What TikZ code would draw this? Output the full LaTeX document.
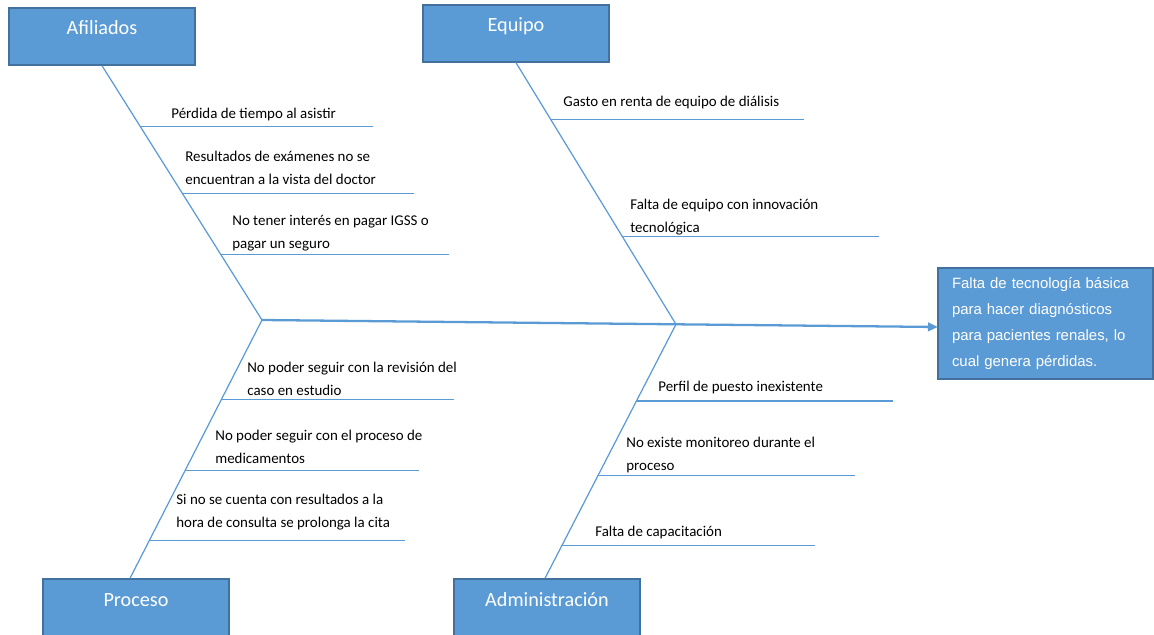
\documentclass[tikz,border=0pt]{standalone}
\usepackage{fontspec}
\setmainfont{Carlito}
\newfontfamily\arialfont{Liberation Sans}
\usetikzlibrary{arrows.meta,calc}
\definecolor{azul}{RGB}{91,155,213}
\definecolor{azulborde}{RGB}{65,113,156}

\begin{document}
\begin{tikzpicture}[x=0.02cm,y=-0.02cm,
    categoria/.style={draw=azulborde,fill=azul,line width=0.8pt,minimum width=3.72cm,inner sep=0pt,
        text height=0.54cm,text depth=0.6cm,text=white,font=\fontsize{11.5}{13}\selectfont},
    efecto/.style={draw=azulborde,fill=azul,line width=0.8pt,text=white,align=left,
        minimum width=4.3cm,minimum height=2.22cm,text width=3.74cm,inner xsep=0.28cm,
        font=\arialfont\fontsize{8.5}{14.9}\selectfont},
    causa/.style={anchor=south west,inner sep=0pt,text depth=0pt,align=left,font=\fontsize{8.5}{13}\selectfont},
    hueso/.style={azul,line width=0.7pt},
    espina/.style={azul,line width=0.7pt},
    >={Triangle[length=0.2cm,width=0.17cm]}
]
\useasboundingbox (0,0) rectangle (1154,635);

%------------------------ cajas ------------------------
\node[categoria] (afiliados) at (102,36.5) {Afiliados};
\node[categoria] (equipo) at (516,33.5) {Equipo};
\node[categoria] (proceso) at (136,607.5) {Proceso};
\node[categoria] (admin) at (547,607.5) {Administración};
\node[efecto] (efecto) at (1045.5,323.5) {Falta de tecnología básica\\para hacer diagnósticos\\para pacientes renales, lo\\cual genera pérdidas.};

%------------------------ espina central ------------------------
\coordinate (J1) at (262,320);
\coordinate (J2) at (676,324.3);
\coordinate (cabeza) at (938,327);
\draw[->,azul,line width=1.3pt] (J1) -- (J2) -- (cabeza);

%------------------------ huesos ------------------------
\draw[hueso] (afiliados.south) -- coordinate[pos=.239] (a1) coordinate[pos=.502] (a2) coordinate[pos=.741] (a3) (J1);
\draw[hueso] (equipo.south) -- coordinate[pos=.218] (e1) coordinate[pos=.664] (e2) (J2);
\draw[hueso] (J1) -- coordinate[pos=.309] (p1) coordinate[pos=.583] (p2) coordinate[pos=.853] (p3) ($(proceso.north)+(-6,0)$);
\draw[hueso] (J2) -- coordinate[pos=.302] (d1) coordinate[pos=.596] (d2) coordinate[pos=.871] (d3) ($(admin.north)+(-2,0)$);

% extremos libres de las espinas
\coordinate (a1f) at (373,126);
\coordinate (a2f) at (414,193);
\coordinate (a3f) at (449,254);
\coordinate (e1f) at (804,119);
\coordinate (e2f) at (879,236);
\coordinate (p1f) at (454,400);
\coordinate (p2f) at (419,471);
\coordinate (p3f) at (405,541);
\coordinate (d1f) at (893,401);
\coordinate (d2f) at (855,476);
\coordinate (d3f) at (815,546);

%------------------------ Afiliados ------------------------
\draw[espina] (a1) -- (a1 -| a1f);
\draw[espina] (a2) -- (a2 -| a2f);
\draw[espina] (a3) -- (a3 -| a3f);
\node[causa] (ta1) at (171,119) {Pérdida de tiempo al asistir};
\node[causa] (ta2) at (185,185) {Resultados de exámenes no se\\encuentran a la vista del doctor};
\node[causa] (ta3) at (232,249) {No tener interés en pagar IGSS o\\pagar un seguro};

%------------------------ Equipo ------------------------
\draw[espina] (e1) -- (e1 -| e1f);
\draw[espina] (e2) -- (e2 -| e2f);
\node[causa] (te1) at (563,107) {Gasto en renta de equipo de diálisis};
\node[causa] (te2) at (630,233) {Falta de equipo con innovación\\tecnológica};

%------------------------ Proceso ------------------------
\draw[espina] (p1) -- (p1 -| p1f);
\draw[espina] (p2) -- (p2 -| p2f);
\draw[espina] (p3) -- (p3 -| p3f);
\node[causa] (tp1) at (247,396) {No poder seguir con la revisión del\\caso en estudio};
\node[causa] (tp2) at (215,464) {No poder seguir con el proceso de\\medicamentos};
\node[causa] (tp3) at (176,528) {Si no se cuenta con resultados a la\\hora de consulta se prolonga la cita};

%------------------------ Administración ------------------------
\draw[espina] (d1) -- (d1 -| d1f);
\draw[espina] (d2) -- (d2 -| d2f);
\draw[espina] (d3) -- (d3 -| d3f);
\node[causa] (td1) at (658,392) {Perfil de puesto inexistente};
\node[causa] (td2) at (626,471) {No existe monitoreo durante el\\proceso};
\node[causa] (td3) at (595,537) {Falta de capacitación};

\end{tikzpicture}
\end{document}
